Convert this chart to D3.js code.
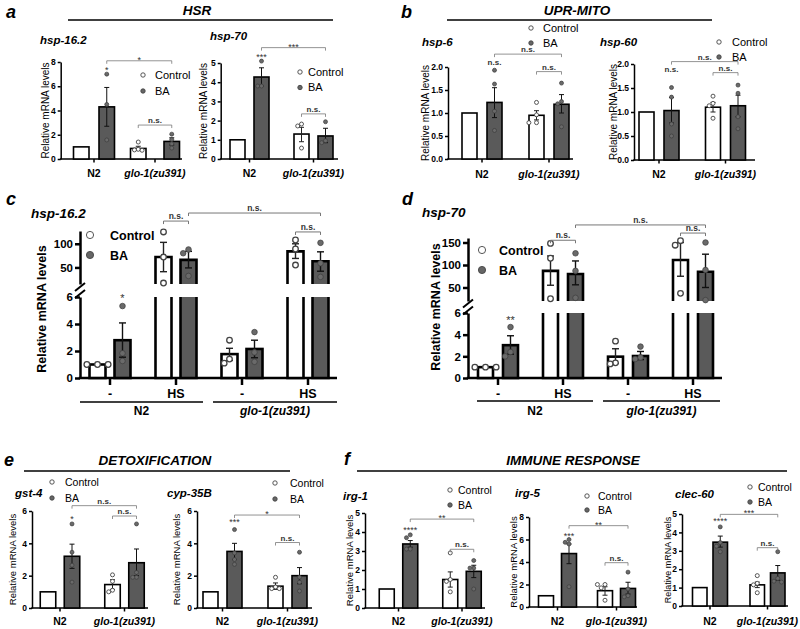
<!DOCTYPE html>
<html><head><meta charset="utf-8">
<script src="https://cdn.jsdelivr.net/npm/d3@7"></script>
<style>body{margin:0;background:#fff} svg{display:block}</style>
</head><body><svg id="c" width="800" height="629"></svg>
<script>
// ---------- categories ----------
const groups2 = ["N2", "glo-1(zu391)"];
const groups4 = ["N2 -", "N2 HS", "glo -", "glo HS"];
const condLabels = ["-", "HS", "-", "HS"];
const strains = ["N2", "glo-1(zu391)"];
const seriesNames = ["Control", "BA"];

// ---------- data (bar order: N2 Ctrl, N2 BA, glo Ctrl, glo BA ...) ----------
// a: hsp-16.2
const a1_mean = [1, 4.3, 0.87, 1.45];
const a1_err = [null, [2.7, 5.9], [0.7, 1.05], [1.15, 1.75]];
const a1_pts = [[], [7.0, 4.5, 1.57], [1.4, 0.8, 0.75, 0.72], [2.05, 1.6, 1.25, 0.9]];
const a1_sig = [[1, 7.5, "*"]];
const a1_brk = [[1, 3, 8.1, "*"], [2, 3, 2.8, "n.s."]];
// a: hsp-70
const a2_mean = [1, 4.27, 1.3, 1.2];
const a2_err = [null, [3.8, 4.75], [0.9, 1.65], [0.85, 1.6]];
const a2_pts = [[], [5.1, 3.8, 3.8], [1.82, 1.72, 0.57], [1.94, 0.95, 0.85]];
const a2_sig = [[1, 5.45, "***"]];
const a2_brk = [[1, 3, 5.8, "***"], [2, 3, 2.35, "n.s."]];
// b: hsp-6
const b1_mean = [1, 1.23, 0.95, 1.19];
const b1_err = [null, [0.9, 1.55], [0.85, 1.05], [1.0, 1.4]];
const b1_pts = [[], [1.93, 1.63, 1.04, 0.62], [1.23, 0.96, 0.79, 0.79], [1.65, 1.25, 1.2, 0.7]];
const b1_sig = [[1, 2.08, "n.s."]];
const b1_brk = [[1, 3, 2.28, "n.s."], [2, 3, 1.9, "n.s."]];
// b: hsp-60
const b2_mean = [1, 1.03, 1.1, 1.13];
const b2_err = [null, [0.77, 1.3], [1.0, 1.2], [0.9, 1.35]];
const b2_pts = [[], [1.51, 1.31, 0.75, 0.5], [1.33, 1.18, 1.13, 0.87], [1.56, 1.39, 0.9, 0.65]];
const b2_sig = [[1, 1.87, "n.s."]];
const b2_brk = [[1, 3, 2.05, "n.s."], [2, 3, 1.82, "n.s."]];
// c: hsp-16.2 heat shock
const c_mean = [1, 2.8, 72, 66, 1.77, 2.15, 84, 63];
const c_err = [null, [1.54, 4.08], [41, 103], [49, 84], [1.3, 2.2], [1.5, 2.8], [69, 100], [42, 83]];
const c_pts = [[1, 1, 1], [5.33, 1.83, 1.26], [125, 72, 17], [88, 80, 32], [2.8, 1.1, 1.4], [3.4, 1.9, 1.2], [108, 89, 55], [102, 59, 30]];
const c_sig = [[1, 6.1, "*"]];
const c_brk = [[2, 3, 148, "n.s."], [3, 7, 165, "n.s."], [6, 7, 125, "n.s."]];
// d: hsp-70 heat shock
const d_mean = [1, 3.03, 87, 80, 1.97, 2.03, 111, 85];
const d_err = [null, [2.2, 3.9], [55, 120], [56, 109], [1.35, 2.7], [1.7, 2.45], [75, 150], [50, 124]];
const d_pts = [[1, 1, 1], [4.7, 2.4, 2.0], [148, 115, 25], [126, 87, 27], [3.4, 1.3, 1.4], [2.9, 1.75, 1.9], [154, 144, 37], [150, 89, 22]];
const d_sig = [[1, 5.55, "**"]];
const d_brk = [[2, 3, 155, "n.s."], [3, 7, 189, "n.s."], [6, 7, 171, "n.s."]];
// e: gst-4
const e1_mean = [1, 3.2, 1.45, 2.8];
const e1_err = [null, [2.45, 3.95], [1.15, 1.75], [2.0, 3.65]];
const e1_pts = [[], [5.2, 3.45, 2.65, 1.6], [2.05, 1.65, 1.0, 1.1], [5.2, 2.2, 1.9, 1.9]];
const e1_sig = [[1, 5.65, "*"]];
const e1_brk = [[1, 3, 6.33, "n.s."], [2, 3, 5.69, "n.s."]];
// e: cyp-35B
const e2_mean = [1, 3.5, 1.35, 2.0];
const e2_err = [null, [3.0, 4.0], [1.15, 1.55], [1.5, 2.5]];
const e2_pts = [[], [4.85, 3.4, 3.0, 2.7], [1.9, 1.3, 1.2, 1.2], [3.45, 1.9, 1.6, 1.05]];
const e2_sig = [[1, 5.45, "***"]];
const e2_brk = [[1, 3, 5.75, "*"], [2, 3, 4.05, "n.s."]];
// f: irg-1
const f1_mean = [1, 3.37, 1.5, 1.93];
const f1_err = [null, [3.2, 3.55], [1.1, 1.9], [1.6, 2.25]];
const f1_pts = [[], [3.85, 3.7, 3.1, 3.1], [2.9, 1.5, 1.4, 0.85], [2.5, 2.1, 2.1, 1.0]];
const f1_sig = [[1, 4.22, "****"]];
const f1_brk = [[1, 3, 4.68, "**"], [2, 3, 3.09, "n.s."]];
// f: irg-5
const f2_mean = [1, 4.75, 1.45, 1.65];
const f2_err = [null, [3.85, 5.6], [1.05, 1.8], [1.15, 2.2]];
const f2_pts = [[], [6.0, 5.75, 5.6, 1.8], [2.0, 2.0, 1.7, 0.6], [3.1, 1.6, 1.0, 0.9]];
const f2_sig = [[1, 6.5, "***"]];
const f2_brk = [[1, 3, 7.23, "**"], [2, 3, 3.94, "n.s."]];
// f: clec-60
const f3_mean = [1, 3.47, 1.15, 1.8];
const f3_err = [null, [3.2, 3.8], [1.0, 1.3], [1.4, 2.2]];
const f3_pts = [[], [4.3, 3.45, 3.25, 2.95], [1.65, 1.23, 1.15, 0.72], [2.95, 1.5, 1.35, 1.3]];
const f3_sig = [[1, 4.72, "****"]];
const f3_brk = [[1, 3, 4.98, "***"], [2, 3, 3.17, "n.s."]];

// ---------- drawing ----------
const FONT = "Arial, 'Liberation Sans', Helvetica, sans-serif";
const BAFILL = "#5a5a5a";
const svg = d3.select("#c").attr("font-family", FONT);

function txt(g, x, y, s, o = {}) {
  return g.append("text").attr("x", x).attr("y", y).text(s)
    .attr("font-size", o.fs || 10).attr("font-weight", o.fw || "normal")
    .attr("font-style", o.it ? "italic" : "normal")
    .attr("text-anchor", o.anchor || "start").attr("fill", o.fill || "#000");
}

function swarm(vals, cx, Y, r) {
  const placed = [];
  vals.map(v => ({ v, y: Y(v) })).sort((a, b) => a.y - b.y).forEach(p => {
    for (const k of [0, -1, 1, -2, 2, -3, 3]) {
      const x = cx + k * r * 1.9;
      if (placed.every(q => (q.x - x) ** 2 + (q.y - p.y) ** 2 >= (1.9 * r) ** 2)) { p.x = x; break; }
    }
    if (p.x === undefined) p.x = cx;
    placed.push(p);
  });
  return placed;
}

const SMALL = { aw: 1.5, bw: 1.6, tl: 3, xtl: 3.5, tfs: 8.5, r: 2.0, capW: 5, ebw: 1, ylfs: 10,
  tifs: 11.5, legfs: 11, legr: 2.2, glfs: 10.5, sigfs: 9, nsfs: 8, brw: 0.8 };
const BIG = { aw: 2.5, bw: 2.6, tl: 5, xtl: 7, tfs: 11.5, r: 2.8, capW: 7, ebw: 1.4, ylfs: 12.5,
  tifs: 13.5, legfs: 12.5, legr: 3.6, glfs: 12, sigfs: 11, nsfs: 8.5, brw: 1, legBold: true, ylBold: true };

function chart(L0, D) {
  const L = Object.assign({}, L0.big ? BIG : SMALL, L0);
  const g = svg.append("g");
  const xc = d3.scalePoint().domain(D.groups).range(L.centers);
  let Y, yl, yu;
  const axes = [];
  if (L.broken) {
    yl = d3.scaleLinear().domain(L.lowDom).range(L.lowRng);
    yu = d3.scaleLinear().domain(L.upDom).range(L.upRng);
    Y = v => (v <= L.lowDom[1] * 1.5 ? yl(v) : yu(v));
    axes.push([yl, L.lowTicks], [yu, L.upTicks]);
  } else {
    Y = d3.scaleLinear().domain([0, L.ymax]).range([L.y0, L.y1]);
    axes.push([Y, L.ticks]);
  }
  const y0 = Y(0);
  axes.forEach(([s, tv]) => {
    const a = g.append("g").attr("transform", `translate(${L.x0},0)`)
      .call(d3.axisLeft(s).tickValues(tv).tickSize(L.tl).tickSizeOuter(0).tickPadding(2)
        .tickFormat(L.fmt || d3.format("d")));
    a.attr("font-family", FONT);
    a.select(".domain").attr("stroke", "#000").attr("stroke-width", L.aw);
    a.selectAll(".tick line").attr("stroke", "#000").attr("stroke-width", L.aw);
    a.selectAll(".tick text").attr("font-size", L.tfs).attr("font-weight", "bold").attr("fill", "#000");
  });
  if (L.broken) {
    const m = (L.upRng[0] + L.lowRng[1]) / 2;
    [-3.5, 3.5].forEach(dy => g.append("line").attr("x1", L.x0 - 5).attr("x2", L.x0 + 5)
      .attr("y1", m + dy + 4).attr("y2", m + dy - 4).attr("stroke", "#000").attr("stroke-width", 2));
  }
  // x axis
  g.append("line").attr("x1", L.x0 - L.aw / 2).attr("x2", L.x1).attr("y1", y0).attr("y2", y0)
    .attr("stroke", "#000").attr("stroke-width", L.aw);
  D.groups.forEach(k => g.append("line").attr("x1", xc(k)).attr("x2", xc(k)).attr("y1", y0)
    .attr("y2", y0 + L.xtl).attr("stroke", "#000").attr("stroke-width", L.aw));

  // bars
  const bars = D.mean.map((v, i) => {
    const gi = Math.floor(i / 2), s = i % 2;
    const cx = xc(D.groups[gi]);
    const gap = Array.isArray(L.gap) ? L.gap[gi] : L.gap;
    const x = s === 0 ? cx - gap / 2 - L.w : cx + gap / 2;
    return { i, s, x, c: x + L.w / 2, v };
  });
  bars.forEach(b => {
    const fill = b.s ? BAFILL : "#fff";
    if (L.broken && b.v > L.lowDom[1]) {
      const top = yu(b.v), bot = L.upRng[0], lt = L.lowRng[1];
      g.append("rect").attr("x", b.x).attr("y", top).attr("width", L.w).attr("height", bot - top).attr("fill", fill);
      g.append("path").attr("d", `M${b.x},${bot}V${top}H${b.x + L.w}V${bot}`).attr("fill", "none")
        .attr("stroke", "#000").attr("stroke-width", L.bw);
      g.append("rect").attr("x", b.x).attr("y", lt).attr("width", L.w).attr("height", y0 - lt).attr("fill", fill);
      g.append("path").attr("d", `M${b.x},${lt}V${y0}H${b.x + L.w}V${lt}`).attr("fill", "none")
        .attr("stroke", "#000").attr("stroke-width", L.bw);
    } else {
      g.append("rect").attr("x", b.x).attr("y", Y(b.v)).attr("width", L.w).attr("height", y0 - Y(b.v))
        .attr("fill", fill).attr("stroke", "#000").attr("stroke-width", L.bw);
    }
  });
  // error bars
  bars.forEach(b => {
    const e = D.err[b.i]; if (!e) return;
    const ya = Y(e[0]), yb = Y(e[1]);
    const col = b.s ? "#111" : "#222";
    g.append("line").attr("x1", b.c).attr("x2", b.c).attr("y1", ya).attr("y2", yb).attr("stroke", col).attr("stroke-width", L.ebw);
    [ya, yb].forEach(yy => g.append("line").attr("x1", b.c - L.capW / 2).attr("x2", b.c + L.capW / 2)
      .attr("y1", yy).attr("y2", yy).attr("stroke", col).attr("stroke-width", L.ebw));
  });
  // points
  bars.forEach(b => {
    swarm(D.pts[b.i], b.c, Y, L.r).forEach(p => {
      g.append("circle").attr("cx", p.x).attr("cy", p.y).attr("r", L.r)
        .attr("fill", b.s ? "#6a6a6a" : "#fff").attr("stroke", b.s ? "#3c3c3c" : "#444")
        .attr("stroke-width", b.s ? 0.7 : (L.big ? 1.3 : 0.9));
    });
  });
  // significance above bars
  D.sig.forEach(([bi, v, lab]) => {
    const star = lab.includes("*");
    const fs = star ? L.sigfs : L.nsfs;
    txt(g, bars[bi].c, Y(v) + (star ? 0.58 : 0.26) * fs, lab, { fs, anchor: "middle", fill: "#333", fw: star ? "normal" : "bold" });
  });
  // brackets
  D.brk.forEach(([a, b, v, lab]) => {
    const yy = Y(v), xa = bars[a].c, xb = bars[b].c;
    g.append("path").attr("d", `M${xa},${yy + 3}V${yy}H${xb}V${yy + 3}`).attr("fill", "none")
      .attr("stroke", "#777").attr("stroke-width", L.brw);
    const star = lab.includes("*");
    const fs = star ? L.sigfs : L.nsfs;
    txt(g, (xa + xb) / 2, yy - 2 + (star ? 0.45 * fs : 0), lab, { fs, anchor: "middle", fill: "#333", fw: star ? "normal" : "bold" });
  });
  // legend
  seriesNames.forEach((n, k) => {
    const ly = L.legend.y + k * L.legend.dy;
    g.append("circle").attr("cx", L.legend.x).attr("cy", ly).attr("r", L.legr)
      .attr("fill", k ? "#666" : "#fff").attr("stroke", "#444").attr("stroke-width", 0.9);
    txt(g, L.legend.tx, ly + L.legfs * 0.36, n, { fs: L.legfs, fw: L.legBold ? "bold" : "normal" });
  });
  // title
  txt(g, L.title[1], L.title[2], L.title[0], { fs: L.tifs, fw: "bold", it: true });
  // y label
  const ym = L.ylY !== undefined ? L.ylY : (L.y0 + L.y1) / 2;
  g.append("text").attr("transform", `translate(${L.ylx + 0.35 * L.ylfs},${ym}) rotate(-90)`)
    .attr("text-anchor", "middle").attr("font-size", L.ylfs).attr("font-weight", L.ylBold ? "bold" : "normal")
    .text("Relative mRNA levels");
  // group labels
  if (L.big) {
    D.groups.forEach((k, i) => txt(g, xc(k), L.hsY, condLabels[i], { fs: 12.5, fw: "bold", anchor: "middle" }));
    L.strainLines.forEach(([xa, xb], i) => {
      g.append("line").attr("x1", xa).attr("x2", xb).attr("y1", L.slY).attr("y2", L.slY).attr("stroke", "#000").attr("stroke-width", 1.3);
      txt(g, (xa + xb) / 2, L.sY, strains[i], { fs: L.glfs, fw: "bold", it: i === 1, anchor: "middle" });
    });
  } else {
    D.groups.forEach((k, i) => txt(g, xc(k), L.glY, k, { fs: L.glfs, fw: "bold", it: i === 1, anchor: "middle" }));
  }
}

const D = (mean, err, pts, sig, brk, groups) => ({ mean, err, pts, sig, brk, groups: groups || groups2 });

// panel a
chart({ x0: 60.7, x1: 182, y0: 159, y1: 62, ymax: 8, ticks: [0, 2, 4, 6, 8], centers: [94, 155], w: 15.5, gap: [10, 18],
  title: ["hsp-16.2", 40, 44], ylx: 45, legend: { x: 143, y: 75, dy: 16, tx: 155 }, glY: 177 },
  D(a1_mean, a1_err, a1_pts, a1_sig, a1_brk));
chart({ x0: 220.7, x1: 338, y0: 159, y1: 63, ymax: 5, ticks: [0, 1, 2, 3, 4, 5], centers: [249.5, 313.5], w: 15, gap: 9,
  title: ["hsp-70", 210, 40], ylx: 203, legend: { x: 300, y: 72, dy: 15.5, tx: 308 }, glY: 177 },
  D(a2_mean, a2_err, a2_pts, a2_sig, a2_brk));
// panel b
chart({ x0: 448, x1: 573, y0: 159, y1: 67, ymax: 2, ticks: [0, 0.5, 1, 1.5, 2], fmt: d3.format(".1f"), centers: [482, 549], w: 15, gap: 10,
  title: ["hsp-6", 422, 46], ylx: 425, legend: { x: 531, y: 28, dy: 15, tx: 543 }, glY: 178 },
  D(b1_mean, b1_err, b1_pts, b1_sig, b1_brk));
chart({ x0: 634, x1: 755, y0: 160, y1: 64, ymax: 2, ticks: [0, 0.5, 1, 1.5, 2], fmt: d3.format(".1f"), centers: [659, 725.5], w: 15, gap: 10,
  title: ["hsp-60", 600, 46], ylx: 613, legend: { x: 719, y: 42, dy: 15, tx: 732 }, glY: 178 },
  D(b2_mean, b2_err, b2_pts, b2_sig, b2_brk));
// panel c
chart({ big: true, broken: true, x0: 80, x1: 337, lowDom: [0, 6], lowRng: [378, 297], upDom: [15, 127], upRng: [284, 231],
  lowTicks: [0, 2, 4, 6], upTicks: [50, 100], centers: [110, 308], w: 16, gap: 9,
  title: ["hsp-16.2", 31, 218], ylx: 42, ylY: 309, legend: { x: 90, y: 235, dy: 20, tx: 110 },
  hsY: 398, strainLines: [[80, 203], [213, 337]], slY: 402, sY: 415 },
  D(c_mean, c_err, c_pts, c_sig, c_brk, groups4));
// panel d
chart({ big: true, broken: true, x0: 468, x1: 722, lowDom: [0, 6], lowRng: [378, 313], upDom: [20, 160], upRng: [301, 238],
  lowTicks: [0, 2, 4, 6], upTicks: [50, 100, 150], centers: [498, 693], w: 15, gap: 10,
  title: ["hsp-70", 422, 217], ylx: 436, ylY: 307, legend: { x: 482, y: 250, dy: 20, tx: 499 },
  hsY: 398, strainLines: [[477, 593], [603, 720]], slY: 401, sY: 415 },
  D(d_mean, d_err, d_pts, d_sig, d_brk, groups4));
// panel e
chart({ x0: 32, x1: 148, y0: 608, y1: 511, ymax: 6, ticks: [0, 2, 4, 6], centers: [60, 124.5], w: 15.5, gap: 8.5,
  title: ["gst-4", 15, 497], ylx: 13, legend: { x: 52, y: 482, dy: 16, tx: 65 }, glY: 625, legfs: 10.5, ylfs: 9.5 },
  D(e1_mean, e1_err, e1_pts, e1_sig, e1_brk));
chart({ x0: 197, x1: 312, y0: 608, y1: 511, ymax: 6, ticks: [0, 2, 4, 6], centers: [222.5, 287.5], w: 15, gap: 9,
  title: ["cyp-35B", 167, 497], ylx: 177, legend: { x: 275, y: 483, dy: 16, tx: 290 }, glY: 625, legfs: 10.5, ylfs: 9.5 },
  D(e2_mean, e2_err, e2_pts, e2_sig, e2_brk));
// panel f
chart({ x0: 365, x1: 485, y0: 608, y1: 513, ymax: 5, ticks: [0, 1, 2, 3, 4, 5], centers: [398.5, 462], w: 15, gap: 8.5,
  title: ["irg-1", 343, 500], ylx: 350, legend: { x: 450, y: 490, dy: 15, tx: 458 }, glY: 625, legfs: 10.5, ylfs: 9.5 },
  D(f1_mean, f1_err, f1_pts, f1_sig, f1_brk));
chart({ x0: 529, x1: 637, y0: 607, y1: 517, ymax: 8, ticks: [0, 2, 4, 6, 8], centers: [557.5, 616.5], w: 15, gap: 8,
  title: ["irg-5", 515, 497], ylx: 514, legend: { x: 587, y: 496, dy: 14, tx: 598 }, glY: 625, legfs: 10.5, ylfs: 9.5 },
  D(f2_mean, f2_err, f2_pts, f2_sig, f2_brk));
chart({ x0: 682, x1: 788, y0: 606, y1: 514, ymax: 5, ticks: [0, 1, 2, 3, 4, 5], centers: [710, 767.5], w: 14.5, gap: 6,
  title: ["clec-60", 675, 498], ylx: 668, legend: { x: 750, y: 487, dy: 15, tx: 758 }, glY: 625, legfs: 10.5, ylfs: 9 },
  D(f3_mean, f3_err, f3_pts, f3_sig, f3_brk));

// headers and panel letters
const hg = svg.append("g");
[["a", 6, 18], ["b", 401, 18], ["c", 6, 205], ["d", 402, 205], ["e", 4, 466], ["f", 344, 465]].forEach(([t, x, y]) =>
  txt(hg, x, y, t, { fs: 18, fw: "bold", it: true }));
[["HSR", 197, 15, 68, 333, 20], ["UPR-MITO", 577, 15, 447, 712, 20],
 ["DETOXIFICATION", 155, 465, 24, 290, 471], ["IMMUNE RESPONSE", 573, 465, 357, 787, 471]].forEach(([t, x, y, xa, xb, ly]) => {
  txt(hg, x, y, t, { fs: 13.5, fw: "bold", it: true, anchor: "middle" });
  hg.append("line").attr("x1", xa).attr("x2", xb).attr("y1", ly).attr("y2", ly).attr("stroke", "#000").attr("stroke-width", 1.6);
});
</script></body></html>
